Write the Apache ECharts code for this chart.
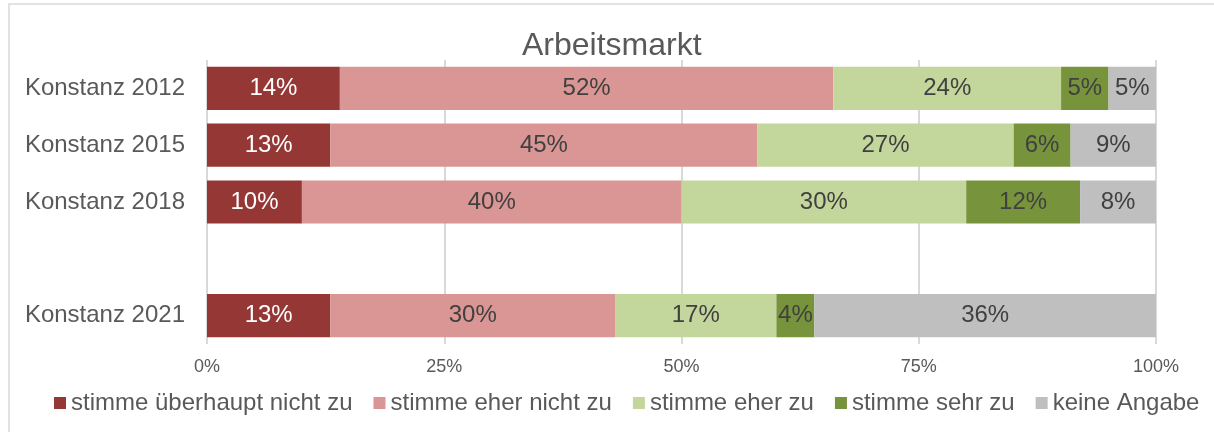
<!DOCTYPE html>
<html>
<head>
<meta charset="utf-8">
<script src="https://cdn.jsdelivr.net/npm/echarts@6/dist/echarts.min.js"></script>
<style>
  html, body { margin: 0; padding: 0; background: #fff; }
  #main { width: 1214px; height: 432px; }
</style>
</head>
<body>
<div id="main"></div>
<script>
// Kategorien (leere Zeile zwischen 2018 und 2021)
const categories = ["Konstanz 2012", "Konstanz 2015", "Konstanz 2018", "", "Konstanz 2021"];
const seriesNames = ["stimme überhaupt nicht zu", "stimme eher nicht zu", "stimme eher zu", "stimme sehr zu", "keine Angabe"];
const colors = ["#953735", "#D99694", "#C3D69B", "#77933C", "#BFBFBF"];

const ueberhauptNicht = [14, 13, 10, "-", 13];
const eherNicht = [52, 45, 40, "-", 30];
const eherZu = [24, 27, 30, "-", 17];
const sehrZu = [5, 6, 12, "-", 4];
const keineAngabe = [5, 9, 8, "-", 36];

const tickLabels = ["0%", "25%", "50%", "75%", "100%"];

const values = [ueberhauptNicht, eherNicht, eherZu, sehrZu, keineAngabe];
const font = "Liberation Sans, Arial, sans-serif";

let chartDom = document.getElementById("main");
let myChart = echarts.init(chartDom);
let option;

option = {
  animation: false,
  color: colors,
  textStyle: { fontFamily: font },
  title: {
    text: "Arbeitsmarkt",
    left: 517,
    top: 25,
    textStyle: { fontFamily: font, fontSize: 32, fontWeight: "normal", color: "#595959" },
  },
  graphic: [
    {
      type: "rect",
      shape: { x: 9, y: 4, width: 1300, height: 500 },
      style: { fill: "none", stroke: "#d9d9d9", lineWidth: 1.5 },
      silent: true,
    },
  ],
  legend: {
    bottom: 12,
    left: 49,
    itemWidth: 12,
    itemHeight: 12,
    itemGap: 21,
    icon: "rect",
    textStyle: { fontFamily: font, fontSize: 24, color: "#595959" },
    data: seriesNames,
  },
  grid: { left: 207, right: 58, top: 60, bottom: 88 },
  xAxis: {
    type: "value",
    min: 0,
    max: 100,
    interval: 25,
    axisLine: { show: false },
    axisTick: { show: false },
    axisLabel: {
      margin: 14,
      fontFamily: font,
      fontSize: 18,
      color: "#595959",
      formatter: (v) => tickLabels[v / 25],
    },
    splitLine: { lineStyle: { color: "#d9d9d9", width: 2 } },
  },
  yAxis: {
    type: "category",
    inverse: true,
    data: categories,
    axisLine: { show: false },
    axisTick: { show: false },
    axisLabel: { margin: 22, fontFamily: font, fontSize: 24, color: "#595959" },
  },
  series: seriesNames.map((name, i) => ({
    name: name,
    type: "bar",
    stack: "total",
    barCategoryGap: "24%",
    data: values[i],
    itemStyle: { color: colors[i] },
    label: {
      show: true,
      position: "inside",
      formatter: "{c}%",
      fontFamily: font,
      fontSize: 24,
      color: i === 0 ? "#ffffff" : "#404040",
    },
  })),
};
option && myChart.setOption(option);
</script>
</body>
</html>
